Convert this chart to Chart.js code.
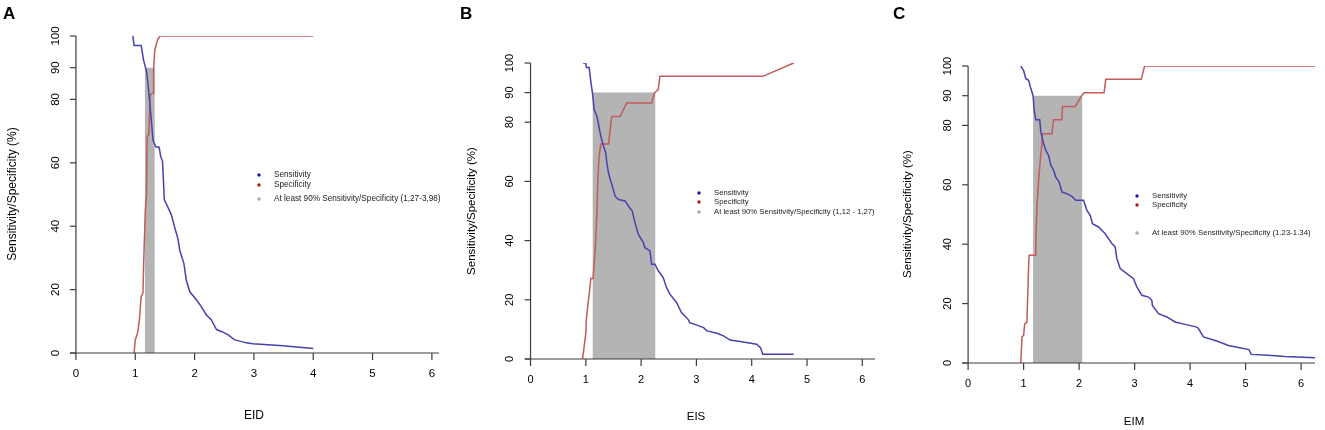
<!DOCTYPE html>
<html>
<head>
<meta charset="utf-8">
<script src="https://cdn.jsdelivr.net/npm/chart.js@4"></script>
<style>
  html, body { margin: 0; padding: 0; background: #fff; }
  #wrap { position: relative; width: 1325px; height: 430px; overflow: hidden; }
  .panel { position: absolute; top: 0; width: 440px; height: 430px; }
</style>
</head>
<body>
<div id="wrap">
  <div class="panel" style="left:0px"><canvas id="chart-eid"></canvas></div>
  <div class="panel" style="left:440px"><canvas id="chart-eis"></canvas></div>
  <div class="panel" style="left:885px"><canvas id="chart-eim"></canvas></div>
</div>
<script>
// tick labels shared by the three panels
const xTicks = [0, 1, 2, 3, 4, 5, 6];
const yTicks = [0, 20, 40, 60, 80, 90, 100];

// panel A - EID
const eidSensitivity = [
  [0.96, 100], [0.98, 97], [1.10, 97], [1.14, 92.4], [1.19, 88.8], [1.22, 84], [1.25, 77.7],
  [1.28, 71.4], [1.30, 67], [1.35, 65], [1.40, 65], [1.43, 62], [1.46, 60.4], [1.49, 48.3],
  [1.55, 46], [1.61, 43.5], [1.66, 39.9], [1.72, 36], [1.75, 32.4], [1.82, 28.2], [1.86, 23],
  [1.92, 19.3], [2.03, 16.8], [2.11, 14.7], [2.20, 12], [2.28, 10.5], [2.37, 7.4], [2.45, 6.8],
  [2.56, 5.8], [2.67, 4.2], [2.87, 3.2], [2.98, 2.9], [3.49, 2.3], [4.0, 1.4]
];
const eidSpecificity = [
  [0.98, 0], [1.0, 4.2], [1.04, 6.3], [1.07, 10.5], [1.10, 17.9], [1.13, 18.9], [1.14, 27.3],
  [1.17, 45.2], [1.19, 50], [1.20, 68.3], [1.23, 68.9], [1.25, 81.4], [1.30, 82], [1.31, 90],
  [1.33, 95.6], [1.38, 99], [1.42, 100], [4.0, 100]
];
const eidBand = [1.16, 1.33];

// panel B - EIS
const eisSensitivity = [
  [0.95, 100], [1.0, 100], [1.01, 98.5], [1.06, 98.5], [1.09, 93.8], [1.12, 89.9], [1.15, 84.3],
  [1.20, 82], [1.23, 79.3], [1.27, 75.3], [1.32, 71.9], [1.36, 69.7], [1.38, 66.3], [1.41, 62.9],
  [1.45, 60.1], [1.48, 58.4], [1.53, 55], [1.59, 53.9], [1.71, 53.4], [1.77, 51.7], [1.84, 50],
  [1.89, 46], [1.95, 42.1], [2.04, 39.3], [2.07, 37.6], [2.16, 36.5], [2.19, 32], [2.25, 32],
  [2.31, 29.8], [2.40, 27.5], [2.46, 24.1], [2.52, 21.9], [2.64, 19.1], [2.73, 15.7], [2.85, 13.4],
  [2.88, 12.3], [2.97, 11.7], [3.13, 10.6], [3.19, 9.5], [3.37, 8.7], [3.49, 7.8], [3.61, 6.4],
  [3.79, 5.9], [4.09, 5], [4.16, 3.8], [4.20, 1.6], [4.76, 1.6]
];
const eisSpecificity = [
  [0.94, 0], [0.97, 4.2], [1.0, 8.7], [1.01, 13.2], [1.04, 18.8], [1.07, 23.3], [1.09, 27.2],
  [1.13, 27.2], [1.15, 32.3], [1.17, 36.8], [1.20, 49.2], [1.22, 61.6], [1.24, 68.4], [1.27, 72.6],
  [1.41, 72.6], [1.44, 77.4], [1.47, 81.9], [1.62, 81.9], [1.68, 84.2], [1.74, 86.5], [2.19, 86.5],
  [2.24, 89.9], [2.31, 91], [2.34, 95.5], [4.20, 95.5], [4.76, 100]
];
const eisBand = [1.12, 2.26];

// panel C - EIM
const eimSensitivity = [
  [0.95, 100], [1.0, 98.5], [1.04, 95.7], [1.09, 95.2], [1.13, 92.4], [1.17, 90.1], [1.19, 85.1],
  [1.22, 81.9], [1.29, 81.9], [1.31, 77.8], [1.36, 73.9], [1.40, 71.6], [1.45, 69.9], [1.49, 66.6],
  [1.54, 64.9], [1.58, 62.6], [1.64, 60.9], [1.69, 57.6], [1.78, 57], [1.87, 56.1], [1.94, 54.8],
  [2.08, 54.8], [2.14, 51.4], [2.20, 49.7], [2.24, 46.9], [2.35, 45.8], [2.47, 43.5], [2.59, 40.2],
  [2.65, 39.1], [2.68, 35.2], [2.74, 31.8], [2.86, 30.1], [2.98, 28.4], [3.04, 25.6], [3.13, 22.8],
  [3.25, 22.2], [3.31, 21.1], [3.32, 19.4], [3.43, 16.6], [3.58, 15.5], [3.73, 13.8], [3.91, 13.0],
  [4.12, 12.1], [4.15, 11.6], [4.24, 8.8], [4.48, 7.4], [4.69, 5.9], [4.87, 5.2], [5.06, 4.5],
  [5.10, 2.9], [5.41, 2.6], [5.71, 2.2], [6.25, 1.8]
];
const eimSpecificity = [
  [0.95, 0], [0.97, 8.8], [1.0, 9.3], [1.02, 13.2], [1.06, 13.8], [1.09, 32.3], [1.10, 36.3],
  [1.21, 36.3], [1.22, 41.3], [1.24, 52.5], [1.27, 61.5], [1.30, 68.2], [1.33, 73.9], [1.34, 77.2],
  [1.51, 77.2], [1.54, 81.9], [1.69, 81.9], [1.70, 86.4], [1.93, 86.4], [2.05, 90.1], [2.09, 91],
  [2.45, 91], [2.48, 95.5], [3.12, 95.5], [3.18, 100], [6.25, 100]
];
const eimBand = [1.17, 2.06];

const seriesNames = ['Sensitivity', 'Specificity'];
const bandLevel = 90;

const FONT = '"Liberation Sans", Arial, Helvetica, sans-serif';
const BLUE = '#4643ad';
const RED = '#c25b5b';
const GREY = '#b4b4b4';

const toPoints = (pairs) => pairs.map(([x, y]) => ({ x, y }));

// R-like axes, titles, legend and panel letter drawn over the library scales
const rAxes = {
  id: 'rAxes',
  afterDraw(chart, args, o) {
    const { ctx, chartArea: a, scales: { x, y } } = chart;
    const line = (x1, y1, x2, y2) => {
      ctx.beginPath(); ctx.moveTo(x1, y1); ctx.lineTo(x2, y2); ctx.stroke();
    };
    ctx.save();
    ctx.strokeStyle = '#3c3c3c';
    ctx.lineWidth = 1.2;
    ctx.fillStyle = '#000';
    ctx.textAlign = 'center';
    ctx.textBaseline = 'middle';

    // x axis
    const yZero = y.getPixelForValue(0);
    line(a.left, yZero, a.right, yZero);
    ctx.font = o.tickSize + 'px ' + FONT;
    xTicks.forEach(v => {
      const px = x.getPixelForValue(v);
      line(px, yZero, px, yZero + 7);
      ctx.fillText(String(v), px, yZero + 21);
    });

    // y axis at x = 0, labels parallel to the axis
    const xZero = x.getPixelForValue(0);
    line(xZero, y.getPixelForValue(0), xZero, y.getPixelForValue(100));
    yTicks.forEach(v => {
      const py = y.getPixelForValue(v);
      line(xZero - 6, py, xZero, py);
      ctx.save();
      ctx.translate(xZero - 20.5, py);
      ctx.rotate(-Math.PI / 2);
      ctx.fillText(String(v), 0, 0);
      ctx.restore();
    });

    // axis titles
    ctx.font = o.titleSize + 'px ' + FONT;
    ctx.fillText(o.xTitle, o.xTitlePos[0], o.xTitlePos[1]);
    ctx.save();
    ctx.translate(o.yTitlePos[0], o.yTitlePos[1]);
    ctx.rotate(-Math.PI / 2);
    ctx.fillText('Sensitivity/Specificity (%)', 0, 0);
    ctx.restore();

    // panel letter
    ctx.textAlign = 'left';
    ctx.textBaseline = 'alphabetic';
    ctx.font = 'bold 17px ' + FONT;
    ctx.fillText(o.letter, o.letterPos[0], o.letterPos[1]);

    // legend
    const labels = [seriesNames[0], seriesNames[1], o.bandLabel];
    const dots = ['#1c1ca6', '#b31616', '#a8a8a8'];
    ctx.font = o.legendSize + 'px ' + FONT;
    ctx.textBaseline = 'middle';
    labels.forEach((t, i) => {
      const ly = o.legendY[i];
      ctx.fillStyle = dots[i];
      ctx.beginPath(); ctx.arc(o.legendX, ly, 1.7, 0, Math.PI * 2); ctx.fill();
      ctx.fillStyle = '#222';
      ctx.fillText(t, o.legendX + 15, ly);
    });
    ctx.restore();
  }
};

function makePanel(id, sens, spec, band, xRange, pad, opts) {
  const bandPts = [
    { x: band[0], y: 0 }, { x: band[0], y: bandLevel },
    { x: band[1], y: bandLevel }, { x: band[1], y: 0 }
  ];
  new Chart(document.getElementById(id), {
    type: 'line',
    data: {
      datasets: [
        { label: seriesNames[0], data: toPoints(sens), borderColor: BLUE, borderWidth: 1.5, order: 1 },
        { label: seriesNames[1], data: toPoints(spec), borderColor: RED, borderWidth: 1.5, order: 2 },
        { label: 'band', data: bandPts, borderWidth: 0, borderColor: GREY, backgroundColor: GREY, fill: 'origin', order: 3 }
      ]
    },
    options: {
      responsive: true,
      maintainAspectRatio: false,
      animation: false,
      layout: { padding: pad },
      elements: { point: { radius: 0 }, line: { tension: 0 } },
      scales: {
        x: { type: 'linear', min: xRange[0], max: xRange[1], display: false },
        y: { type: 'linear', min: 0, max: 100, display: false }
      },
      plugins: {
        legend: { display: false },
        tooltip: { enabled: false },
        rAxes: opts
      }
    },
    plugins: [rAxes]
  });
}

makePanel('chart-eid', eidSensitivity, eidSpecificity, eidBand, [-0.1, 6.12],
  { left: 70, right: 1, top: 36, bottom: 77 },
  { letter: 'A', letterPos: [3, 19], xTitle: 'EID', xTitlePos: [254, 416], yTitlePos: [13, 194],
    tickSize: 11.5, titleSize: 12, legendSize: 8.2, legendX: 259, legendY: [175, 185, 199],
    bandLabel: 'At least 90% Sensitivity/Specificity (1,27-3,98)' });

makePanel('chart-eis', eisSensitivity, eisSpecificity, eisBand, [-0.1, 6.23],
  { left: 85, right: 5, top: 63, bottom: 71 },
  { letter: 'B', letterPos: [20, 19], xTitle: 'EIS', xTitlePos: [256, 417], yTitlePos: [32, 211],
    tickSize: 11, titleSize: 11.5, legendSize: 7.7, legendX: 259, legendY: [193, 202, 212],
    bandLabel: 'At least 90% Sensitivity/Specificity (1,12 - 1,27)' });

makePanel('chart-eim', eimSensitivity, eimSpecificity, eimBand, [-0.11, 6.25],
  { left: 77, right: 10, top: 66, bottom: 67 },
  { letter: 'C', letterPos: [8, 19], xTitle: 'EIM', xTitlePos: [249, 422], yTitlePos: [23, 214],
    tickSize: 11, titleSize: 11.5, legendSize: 7.8, legendX: 252, legendY: [196, 205, 233],
    bandLabel: 'At least 90% Sensitivity/Specificity (1.23-1.34)' });
</script>
</body>
</html>
